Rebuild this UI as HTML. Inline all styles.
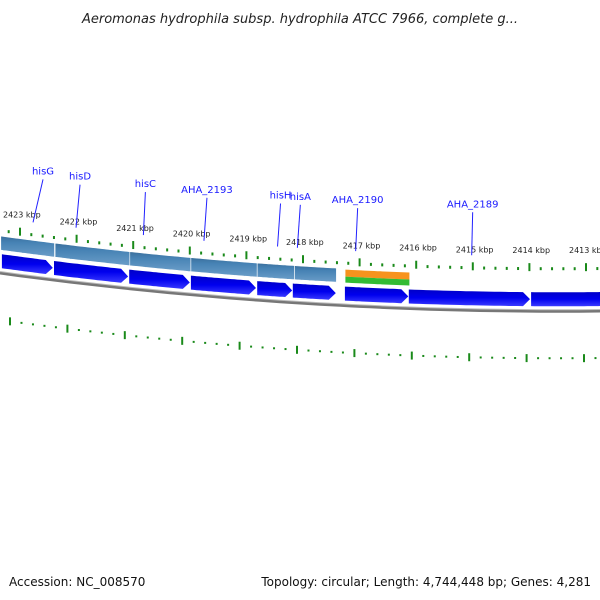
<!DOCTYPE html>
<html><head><meta charset="utf-8"><style>
body{margin:0;background:#fff;}
svg{display:block;font-family:"DejaVu Sans","Liberation Sans",sans-serif;}
</style></head><body>
<svg id="c" width="600" height="600" viewBox="0 0 600 600">
<defs>
<linearGradient id="gb" x1="0" y1="0" x2="0" y2="1"><stop offset="0" stop-color="#0000c8"/><stop offset="0.5" stop-color="#0000ee"/><stop offset="1" stop-color="#3a3aff"/></linearGradient>
<linearGradient id="gs" x1="0" y1="0" x2="0" y2="1"><stop offset="0" stop-color="#3a6f9c"/><stop offset="0.3" stop-color="#4682b4"/><stop offset="1" stop-color="#6a9dc8"/></linearGradient>
</defs>
<text x="300" y="23" text-anchor="middle" font-size="13" font-style="italic" fill="#222">Aeromonas hydrophila subsp. hydrophila ATCC 7966, complete g...</text>
<text x="9" y="586" font-size="12" fill="#111">Accession: NC_008570</text>
<text x="591" y="586" font-size="12" fill="#111" text-anchor="end">Topology: circular; Length: 4,744,448 bp; Genes: 4,281</text>
</svg>
<script>
const cdsStarts=[2423.32,2422.40,2421.07,2419.98,2418.81,2418.18,2417.26,2416.13,2413.97];
const cdsEnds=[2422.42,2421.09,2420.00,2418.83,2418.19,2417.42,2416.14,2413.99,2412.60];
const featStarts=[2423.34,2422.38,2421.06,2419.98,2418.81,2418.15];
const featEnds=[2422.39,2421.06,2419.98,2418.81,2418.15,2417.41];
const miscStarts=[2417.25];
const miscEnds=[2416.12];
const geneLabels=["hisG","hisD","hisC","AHA_2193","hisH","hisA","AHA_2190","AHA_2189"];
const labelPos=[2422.77,2422.01,2420.82,2419.75,2418.45,2418.10,2417.07,2415.02];
const tickKbp=[2423,2422,2421,2420,2419,2418,2417,2416,2415,2414,2413];

const svg=document.getElementById('c');
const NS='http://www.w3.org/2000/svg';
const X=k=>20+(2423-k)*56.6;
const yb=x=>273+0.1366*x-0.000122*x*x;
function mk(t,a,p){const e=document.createElementNS(NS,t);for(const k in a)e.setAttribute(k,a[k]);(p||svg).appendChild(e);return e;}
function band(x1,x2,o1,o2){let s=[];for(let i=0;i<=20;i++){s.push(x1+(x2-x1)*i/20);}
 let d='M'+s.map(x=>x.toFixed(1)+','+(yb(x)+o1).toFixed(1)).join(' L');
 d+=' L'+s.reverse().map(x=>x.toFixed(1)+','+(yb(x)+o2).toFixed(1)).join(' L')+' Z';return d;}
let bd='M'+Array.from({length:61},(_,i)=>{const x=i*10;return x+','+yb(x).toFixed(1);}).join(' L');
let bb=mk('path',{d:bd,fill:'none',stroke:'#777',"stroke-width":3});


let bb2=mk('path',{d:bd,fill:'none',stroke:'#bbb',"stroke-width":1,transform:'translate(0,-1.5)'});


for(let k=2423.4;k>=2412.4;k-=0.2){const kk=Math.round(k*5)/5;const x=X(kk);if(x<0||x>600)continue;
 const major=Math.abs(kk-Math.round(kk))<0.01;
 const t=mk('line',{x1:x,x2:x,y1:yb(x)-43-(major?5:1),y2:yb(x)-42+(major?2:1),stroke:'#1a8a1a',"stroke-width":2});
 
 
 const xb=x-10+(2423-kk)*0.8;
 const t2=mk('line',{x1:xb,x2:xb,y1:yb(xb)+47-(major?4:1),y2:yb(xb)+47+(major?4:1),stroke:'#1a8a1a',"stroke-width":2});
 
 }
tickKbp.forEach(k=>{const x=X(k);const tx=mk('text',{x:x-17,y:yb(x)-58,"font-size":8,fill:'#222'});tx.textContent=k+' kbp';
 
 });
featStarts.forEach((s,i)=>{const x1=X(s),x2=X(featEnds[i]);
 const p=mk('path',{d:band(x1,x2,-37,-23),fill:'url(#gs)',stroke:'#fff',"stroke-width":0.6});
 
 });
miscStarts.forEach((s,i)=>{const x1=X(s),x2=X(miscEnds[i]);
 const a=mk('path',{d:band(x1,x2,-36,-29),fill:'#f7931e'});
 
 
 const b=mk('path',{d:band(x1,x2,-29,-23),fill:'#33bb33'});
 
 });
cdsStarts.forEach((s,i)=>{const x1=X(s),x2=X(cdsEnds[i]);const h=x2-7;
 const top=[],bot=[];for(let j=0;j<=20;j++){const x=x1+(h-x1)*j/20;top.push(x.toFixed(1)+','+(yb(x)-19).toFixed(1));bot.unshift(x.toFixed(1)+','+(yb(x)-5).toFixed(1));}
 const d='M'+top.join(' L')+' L'+x2.toFixed(1)+','+(yb(x2)-12).toFixed(1)+' L'+bot.join(' L')+' Z';
 const p=mk('path',{d:d,fill:'url(#gb)'});
 
 });
const tilt=[10,4,2,3,3,3,2,1];
geneLabels.forEach((g,i)=>{const x=X(labelPos[i]);const yl=yb(x)-55;
 const ln=mk('line',{x1:x,y1:yl,x2:x+tilt[i],y2:yl-43,stroke:'#2222ff',"stroke-width":1});
 
 
 const t=mk('text',{x:x+tilt[i],y:yl-48,"font-size":10,fill:'#1a1aff',"text-anchor":'middle'});t.textContent=g;
 
 });
</script>
</body></html>
